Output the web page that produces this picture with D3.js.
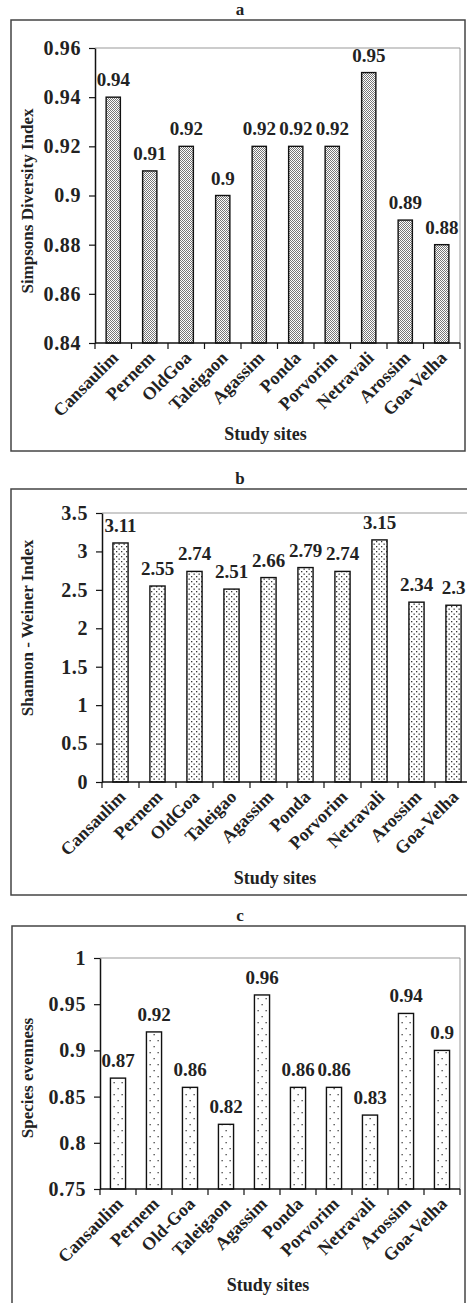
<!DOCTYPE html>
<html>
<head>
<meta charset="utf-8">
<script src="https://cdn.jsdelivr.net/npm/d3@7"></script>
<style>
	body { margin: 0; background: #fff; }
	svg text { font-family: "Liberation Serif", "Times New Roman", serif; font-weight: bold; fill: #222; }
</style>
</head>
<body>
<svg id="chart" width="467" height="1303"></svg>
<script>
// data
var sitesA = ['Cansaulim', 'Pernem', 'OldGoa', 'Taleigaon', 'Agassim', 'Ponda', 'Porvorim', 'Netravali', 'Arossim', 'Goa-Velha'];
var sitesB = ['Cansaulim', 'Pernem', 'OldGoa', 'Taleigao', 'Agassim', 'Ponda', 'Porvorim', 'Netravali', 'Arossim', 'Goa-Velha'];
var sitesC = ['Cansaulim', 'Pernem', 'Old-Goa', 'Taleigaon', 'Agassim', 'Ponda', 'Porvorim', 'Netravali', 'Arossim', 'Goa-Velha'];

var simpson = [0.94, 0.91, 0.92, 0.9, 0.92, 0.92, 0.92, 0.95, 0.89, 0.88];
var shannon = [3.11, 2.55, 2.74, 2.51, 2.66, 2.79, 2.74, 3.15, 2.34, 2.3];
var evenness = [0.87, 0.92, 0.86, 0.82, 0.96, 0.86, 0.86, 0.83, 0.94, 0.9];

var ticksA = [0.84, 0.86, 0.88, 0.9, 0.92, 0.94, 0.96];
var ticksB = [0, 0.5, 1, 1.5, 2, 2.5, 3, 3.5];
var ticksC = [0.75, 0.8, 0.85, 0.9, 0.95, 1];

var svg = d3.select('#chart');

//  stipple fills, dense -> sparse
var defs = svg.append('defs');
var addPattern = (id, w, h, dots, col) => {
	var p = defs.append('pattern').attr('id', id)
		.attr('patternUnits', 'userSpaceOnUse').attr('width', w).attr('height', h);
	p.append('rect').attr('width', w).attr('height', h).attr('fill', '#fff');
	dots.forEach((d) => {
		p.append('rect').attr('x', d[0]).attr('y', d[1]).attr('width', d[2]).attr('height', d[2]).attr('fill', col);
	});
};
addPattern('dotsA', 2, 2, [[0, 0, 1], [1, 1, 1]], '#777');
addPattern('dotsB', 5, 5, [[1, 1, 1.3], [3.5, 3.5, 1.3]], '#333');
addPattern('dotsC', 8, 12, [[1.5, 2, 1.3], [5.5, 8, 1.3]], '#444');


var drawPanel = function(cfg)
{
	var g = svg.append('g');

	// panel frame and letter
	g.append('rect')
		.attr('x', cfg.frame[0]).attr('y', cfg.frame[1])
		.attr('width', cfg.frame[2] - cfg.frame[0]).attr('height', cfg.frame[3] - cfg.frame[1])
		.attr('fill', 'none').attr('stroke', '#444').attr('stroke-width', 1.5);
	g.append('text').attr('x', 240).attr('y', cfg.frame[1] - 5)
		.attr('text-anchor', 'middle').style('font-size', '17px').text(cfg.letter);

	var p = cfg.plot; // left, top, right, bottom
	var x = d3.scaleBand().domain(cfg.sites).range([p[0], p[2]]).padding(0);
	var y = d3.scaleLinear().domain(cfg.domain).range([p[3], p[1]]);

	// light plot-area border (top + right)
	g.append('path')
		.attr('d', `M${p[0]},${p[1]}H${p[2]}V${p[3]}`)
		.attr('fill', 'none').attr('stroke', '#999').attr('stroke-width', 1);

	var bw = x.bandwidth() * cfg.barFrac;
	var data = cfg.sites.map((s, i) => ({site: s, v: cfg.values[i]}));

	g.selectAll('rect.bar').data(data).enter().append('rect')
		.attr('class', 'bar')
		.attr('x', (d) => x(d.site) + (x.bandwidth() - bw) / 2)
		.attr('y', (d) => y(d.v))
		.attr('width', bw)
		.attr('height', (d) => y(cfg.domain[0]) - y(d.v))
		.attr('fill', `url(#${cfg.pattern})`)
		.attr('stroke', '#111').attr('stroke-width', 1.4);

	g.selectAll('text.val').data(data).enter().append('text')
		.attr('class', 'val')
		.attr('x', (d) => x(d.site) + x.bandwidth() / 2)
		.attr('y', (d) => y(d.v) - 11)
		.attr('text-anchor', 'middle')
		.style('font-size', '19px')
		.text((d) => String(d.v));

	// y axis
	var ya = g.append('g').attr('transform', `translate(${p[0]},0)`)
		.call(d3.axisLeft(y).tickValues(cfg.ticks).tickFormat((d) => String(+d.toFixed(2))).tickSize(6).tickPadding(8).tickSizeOuter(0));
	ya.select('.domain').attr('stroke', '#111').attr('stroke-width', 1.5);
	ya.selectAll('line').attr('stroke', '#111').attr('stroke-width', 1.2);
	ya.selectAll('text').attr('fill', '#222').style('font-size', '20px')
		.style('letter-spacing', '0.6px').style('font-family', '"Liberation Serif", serif').style('font-weight', 'bold');

	// x axis: baseline + boundary ticks
	var xa = g.append('g').attr('transform', `translate(0,${p[3]})`);
	xa.append('line').attr('x1', p[0]).attr('x2', p[2])
		.attr('stroke', '#111').attr('stroke-width', 1.5);
	var bounds = cfg.sites.map((s) => x(s)).concat([p[2]]);
	xa.selectAll('line.tk').data(bounds).enter().append('line')
		.attr('class', 'tk')
		.attr('x1', (d) => d).attr('x2', (d) => d)
		.attr('y1', 0).attr('y2', 6)
		.attr('stroke', '#111').attr('stroke-width', 1.2);
	xa.selectAll('text').data(cfg.sites).enter().append('text')
		.attr('transform', (d) => `translate(${x(d) + x.bandwidth() / 2 + 6},${16}) rotate(-45)`)
		.attr('text-anchor', 'end')
		.style('font-size', '18px')
		.text((d) => d);

	// axis titles
	g.append('text')
		.attr('x', (p[0] + p[2]) / 2 - 12).attr('y', cfg.xTitleY)
		.attr('text-anchor', 'middle').style('font-size', '18px')
		.text('Study sites');
	g.append('text')
		.attr('transform', `translate(${cfg.yTitleX},${cfg.yTitleY}) rotate(-90)`)
		.attr('text-anchor', 'middle').style('font-size', '17px')
		.text(cfg.yTitle);
};

drawPanel({
	letter: 'a', frame: [11, 20, 465, 451], plot: [95, 48, 460, 343],
	sites: sitesA, values: simpson, domain: [0.84, 0.96], ticks: ticksA,
	pattern: 'dotsA', barFrac: 0.39,
	xTitleY: 440, yTitle: 'Simpsons Diversity Index', yTitleX: 33, yTitleY: 201
});

drawPanel({
	letter: 'b', frame: [11, 489, 480, 895], plot: [102, 513, 472, 782],
	sites: sitesB, values: shannon, domain: [0, 3.5], ticks: ticksB,
	pattern: 'dotsB', barFrac: 0.41,
	xTitleY: 884, yTitle: 'Shannon - Weiner Index', yTitleX: 33, yTitleY: 628
});

drawPanel({
	letter: 'c', frame: [12, 926, 465, 1310], plot: [100, 958, 460, 1189],
	sites: sitesC, values: evenness, domain: [0.75, 1], ticks: ticksC,
	pattern: 'dotsC', barFrac: 0.42,
	xTitleY: 1291, yTitle: 'Species evenness', yTitleX: 33, yTitleY: 1078
});
</script>
</body>
</html>
